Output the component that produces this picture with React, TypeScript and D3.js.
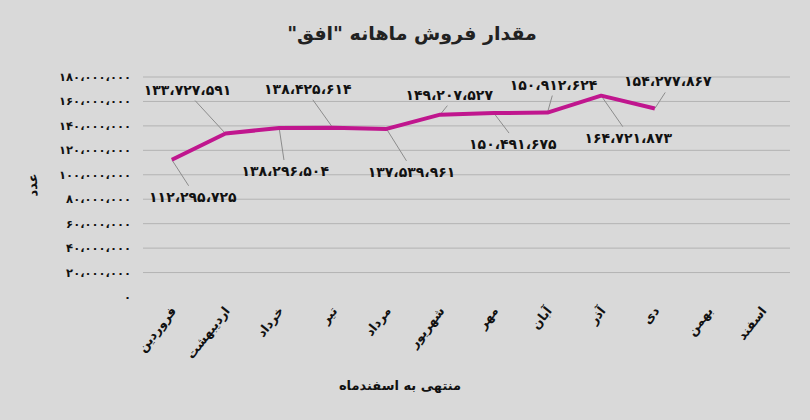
import React from "react";
import * as d3 from "d3";

const months = ["فروردین", "اردیبهشت", "خرداد", "تیر", "مرداد", "شهریور", "مهر", "آبان", "آذر", "دی", "بهمن", "اسفند"];
const sales: (number | null)[] = [112295725, 133727591, 138296504, 138425614, 137539961, 149207527, 150491675, 150912624, 164721873, 154277867, null, null];
const yTicks = [0, 20000000, 40000000, 60000000, 80000000, 100000000, 120000000, 140000000, 160000000, 180000000];
const title = "مقدار فروش ماهانه \"افق\"";
const xTitle = "منتهی به اسفندماه";
const yTitle = "عدد";

const fa = (n: number) =>
  d3.format(",")(n).replace(/,/g, "،").replace(/\d/g, (d) => "۰۱۲۳۴۵۶۷۸۹"[+d]);

const W = 810, H = 420;
const FONT = "'DejaVu Sans', sans-serif";

export default function App() {
  const x = d3.scaleBand<string>().domain(months).range([145, 789]);
  const y = d3.scaleLinear().domain([0, 180000000]).range([297, 77]);
  const cx = (m: string) => (x(m) as number) + x.bandwidth() / 2;
  const pts = months.map((m, i) => ({ m, v: sales[i], i })).filter((p) => p.v != null) as { m: string; v: number; i: number }[];
  const line = d3.line<{ m: string; v: number }>().x((d) => cx(d.m)).y((d) => y(d.v));

  const offsets: [number, number][] = [
    [21, 42], [-38, -39], [6, 48], [-25, -34], [25, 48], [9, -15], [19, 36], [6, -23], [27, 47], [13, -22],
  ];
  const labelPos = (p: { m: string; v: number; i: number }) => {
    const px = cx(p.m), py = y(p.v);
    const [dx, dy] = offsets[p.i];
    return { px, py, lx: px + dx, ly: py + dy, below: dy > 0 };
  };

  return (
    <svg width={W} height={H} style={{ position: "absolute", left: 0, top: 0, background: "#d9d9d9" }}>
      <rect x={0} y={0} width={W} height={H} fill="#d9d9d9" />
      <text x={412} y={40} direction="rtl" textAnchor="middle" fontFamily={FONT} fontWeight="bold" fontSize={19} fill="#222">{title}</text>
      {yTicks.map((t) => (
        <g key={t}>
          {t > 0 && <line x1={143} x2={790} y1={y(t)} y2={y(t)} stroke="#b3b3b3" strokeWidth={1} />}
          <text x={131} y={y(t) + 4} textAnchor="end" fontFamily={FONT} fontWeight="bold" fontSize={11.5} fill="#111">{fa(t)}</text>
        </g>
      ))}
      {months.map((m) => (
        <text key={m} transform={`translate(${cx(m) + 5},${311}) rotate(-52)`} textAnchor="end" fontFamily={FONT} fontWeight="bold" fontSize={12.5} fill="#111">{m}</text>
      ))}
      <text transform={`translate(37,185) rotate(-90)`} textAnchor="middle" fontFamily={FONT} fontWeight="bold" fontSize={13} fill="#111">{yTitle}</text>
      <text x={400} y={390} textAnchor="middle" fontFamily={FONT} fontWeight="bold" fontSize={13} fill="#111">{xTitle}</text>
      {pts.map((p) => {
        const { px, py, lx, ly, below } = labelPos(p);
        const ey = below ? ly - 16 : ly + 6;
        const ex = px + (lx - px) * 0.8;
        return <line key={"l" + p.i} x1={px} y1={py} x2={ex} y2={ey} stroke="#8c8c8c" strokeWidth={1} />;
      })}
      <path d={line(pts) || ""} fill="none" stroke="#c0168e" strokeWidth={4} strokeLinejoin="round" />
      {pts.map((p) => {
        const { lx, ly } = labelPos(p);
        return (
          <text key={"t" + p.i} x={lx} y={ly} textAnchor="middle" fontFamily={FONT} fontWeight="bold" fontSize={14} fill="#111">{fa(p.v)}</text>
        );
      })}
    </svg>
  );
}
